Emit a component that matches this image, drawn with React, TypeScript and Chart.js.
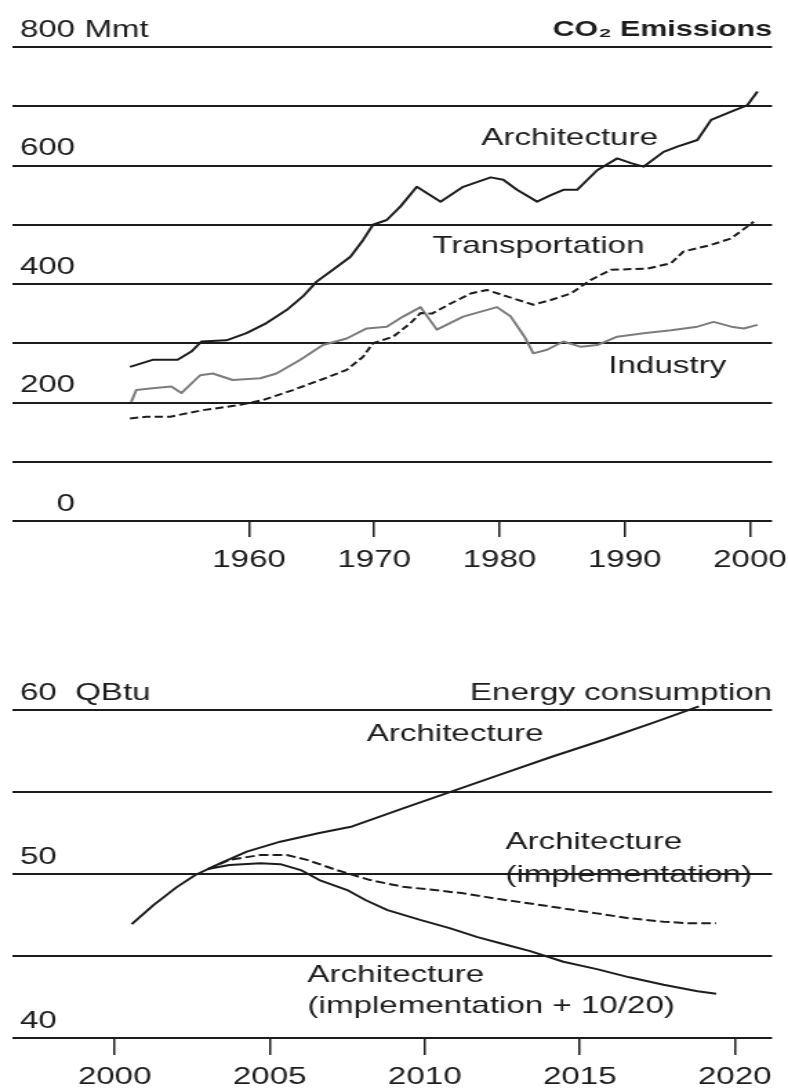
import React, { useEffect, useRef } from 'react';
import { Chart, registerables } from 'chart.js';

Chart.register(...registerables);

// ---------- data: CO2 emissions (Mmt) ----------
const archYears = [1950.5, 1952.3, 1954.3, 1955.4, 1956.2, 1958.2, 1959.8, 1961.4, 1963, 1964.3, 1965.4, 1966.7, 1968.1, 1969.1, 1969.9, 1971, 1972.1, 1973.4, 1975.3, 1977.1, 1979.3, 1980.3, 1981.4, 1983, 1984.1, 1985.1, 1986.2, 1987.8, 1989.4, 1990.5, 1991.5, 1993.1, 1994.2, 1995.8, 1996.9, 1998.5, 1999.8, 2000.6];
const archCO2 = [260, 272, 272, 286, 303, 305, 317, 334, 356, 379, 404, 424, 446, 474, 500, 508, 531, 564, 539, 564, 580, 576, 559, 539, 550, 559, 559, 592, 612, 604, 598, 623, 632, 643, 677, 691, 702, 725];

const transYears = [1950.5, 1951.8, 1953.7, 1956.3, 1959.3, 1961.1, 1963.5, 1965.7, 1967.8, 1969.1, 1969.9, 1971.5, 1972.9, 1973.7, 1974.6, 1976.1, 1977.7, 1979, 1980.6, 1982.7, 1984.1, 1985.7, 1987.3, 1988.9, 1991.8, 1993.7, 1994.7, 1996.9, 1998.5, 2000.3];
const transCO2 = [173, 176, 176, 187, 196, 204, 221, 238, 255, 277, 300, 311, 334, 351, 350, 367, 384, 390, 379, 365, 373, 384, 407, 424, 426, 435, 455, 466, 477, 505];

const indYears = [1950.6, 1951, 1952.3, 1953.8, 1954.6, 1956.1, 1957.1, 1958.7, 1960.9, 1962.2, 1964.1, 1965.9, 1967.8, 1969.4, 1971, 1972.3, 1973.7, 1975, 1977.1, 1979.8, 1980.9, 1982, 1982.7, 1983.8, 1985.1, 1986.5, 1987.8, 1989.4, 1991.5, 1993.7, 1995.8, 1997.1, 1998.5, 1999.5, 2000.6];
const indCO2 = [201, 221, 224, 227, 216, 246, 249, 238, 241, 249, 272, 297, 308, 325, 328, 345, 361, 323, 345, 361, 345, 311, 283, 289, 303, 294, 297, 311, 317, 322, 328, 336, 328, 325, 331];

const co2YearTicks = [1960, 1970, 1980, 1990, 2000];
const co2ValueTicks = [0, 100, 200, 300, 400, 500, 600, 700, 800];

// ---------- data: energy consumption (QBtu) ----------
const energyYears = [2000.55, 2001.25, 2002, 2002.6, 2003.4, 2004.26, 2005.34, 2006.6, 2007.66, 2009.3, 2010.9, 2012.5, 2014.1, 2015.8, 2017.4, 2018.84];
const energyArch = [46.95, 48.1, 49.2, 49.94, 50.65, 51.36, 51.97, 52.5, 52.9, 54.0, 55.05, 56.1, 57.15, 58.2, 59.25, 60.22];

const implYears = [2003.0, 2003.7, 2004.7, 2005.55, 2006.2, 2007.16, 2008.24, 2009.3, 2010.17, 2011.25, 2012.3, 2013.4, 2014.47, 2015.55, 2016.6, 2017.7, 2018.56, 2019.4];
const energyImpl = [50.3, 50.86, 51.16, 51.16, 50.86, 50.24, 49.63, 49.22, 49.05, 48.82, 48.5, 48.2, 47.9, 47.6, 47.3, 47.09, 46.99, 46.99];

const impl1020Years = [2003.0, 2003.7, 2004.7, 2005.34, 2006, 2006.6, 2007.5, 2008.1, 2008.8, 2009.85, 2010.8, 2011.7, 2012.5, 2013.4, 2014.47, 2015.55, 2016.6, 2017.7, 2018.8, 2019.4];
const energyImpl1020 = [50.3, 50.55, 50.65, 50.6, 50.24, 49.63, 49.02, 48.4, 47.8, 47.2, 46.7, 46.15, 45.75, 45.3, 44.65, 44.2, 43.7, 43.25, 42.85, 42.7];

const energyYearTicks = [2000, 2005, 2010, 2015, 2020];
const energyValueTicks = [40, 45, 50, 55, 60];

// ---------- layout / style ----------
const PAGE_W = 788;
const INNER_W = 571; // canvas backing width; shown stretched to PAGE_W like the reference
const S = PAGE_W / INNER_W;
const INK = '#1c1c1c';
const GREY = '#7c7c7c';
const FAMILY = '"Liberation Sans", Arial, Helvetica, sans-serif';
const FONT_SIZE = 24;

const topNotes = [
  { text: 'Architecture', x: 1985.6, y: 645, align: 'center' },
  { text: 'Transportation', x: 1983.1, y: 464, align: 'center' },
  { text: 'Industry', x: 1993.4, y: 261, align: 'center' },
];

const bottomNotes = [
  { text: 'Architecture', x: 2010.98, y: 58.5, align: 'center' },
  { text: 'Architecture', x: 2012.6, y: 51.9, align: 'left' },
  { text: '(implementation)', x: 2012.6, y: 49.94, align: 'left' },
  { text: 'Architecture', x: 2006.22, y: 43.83, align: 'left' },
  { text: '(implementation + 10/20)', x: 2006.22, y: 41.94, align: 'left' },
];

const pts = (xs: number[], ys: number[]) => xs.map((x, i) => ({ x, y: ys[i] }));

function makeNotesPlugin(notes: any[], title: string, titleBold: boolean, unit: string, unitAfter: string, topValue: number) {
  return {
    id: 'notes',
    afterDatasetsDraw(chart: any) {
      const { ctx, chartArea } = chart;
      const xs = chart.scales.x;
      const ys = chart.scales.y;
      ctx.save();
      ctx.fillStyle = INK;
      ctx.textBaseline = 'middle';
      ctx.font = `${FONT_SIZE}px ${FAMILY}`;
      for (const n of notes) {
        ctx.textAlign = n.align;
        ctx.fillText(n.text, xs.getPixelForValue(n.x), ys.getPixelForValue(n.y));
      }
      const headY = ys.getPixelForValue(topValue) - 17;
      // unit next to the top tick label
      const tickX = chartArea.left + 5 + ctx.measureText(unitAfter).width;
      ctx.textAlign = 'left';
      ctx.fillText(unit, tickX, headY);
      // title at the right
      ctx.font = `${titleBold ? 'bold 22px' : FONT_SIZE + 'px'} ${FAMILY}`;
      ctx.textAlign = 'right';
      ctx.fillText(title, chartArea.right, headY);
      ctx.restore();
    },
  };
}

function buildOptions(cfg: any) {
  const font = { family: FAMILY, size: FONT_SIZE };
  return {
    responsive: false,
    maintainAspectRatio: false,
    animation: false,
    devicePixelRatio: 1,
    events: [],
    layout: { padding: { left: 13 / S, right: 16 / S, top: cfg.padTop, bottom: cfg.padBottom } },
    plugins: { legend: { display: false }, tooltip: { enabled: false }, title: { display: false } },
    elements: { line: { borderJoinStyle: 'round', borderCapStyle: 'butt' }, point: { radius: 0 } },
    scales: {
      x: {
        type: 'linear',
        min: cfg.xMin,
        max: cfg.xMax,
        afterBuildTicks: (s: any) => { s.ticks = cfg.xTicks.map((v: number) => ({ value: v })); },
        afterFit: (s: any) => { s.height = cfg.xAxisH; s.paddingLeft = 0; s.paddingRight = 0; },
        grid: { drawOnChartArea: false, drawTicks: true, tickLength: cfg.tickLen, color: INK, lineWidth: 1.5 },
        border: { display: false },
        ticks: { font, color: INK, padding: cfg.tickPad, maxRotation: 0, autoSkip: false, callback: (v: any) => String(v) },
      },
      y: {
        type: 'linear',
        min: cfg.yMin,
        max: cfg.yMax,
        afterBuildTicks: (s: any) => { s.ticks = cfg.yTicks.map((v: number) => ({ value: v })); },
        afterFit: (s: any) => { s.width = 0; s.paddingTop = 0; s.paddingBottom = 0; },
        grid: { color: INK, lineWidth: 2, drawTicks: false },
        border: { display: false },
        ticks: {
          mirror: true, crossAlign: 'far', padding: 5, labelOffset: -17, font, color: INK, autoSkip: false,
          callback: (v: any) => (v % cfg.labelEvery === 0 ? String(v) : ''),
        },
      },
    },
  };
}

export default function App() {
  const topRef = useRef<HTMLCanvasElement | null>(null);
  const botRef = useRef<HTMLCanvasElement | null>(null);

  useEffect(() => {
    const line = (label: string, data: any[], color: string, dash: number[] = []) => ({
      label, data, borderColor: color, borderWidth: 2, borderDash: dash, pointRadius: 0, tension: 0, fill: false, clip: false,
    });

    const top = new Chart(topRef.current as HTMLCanvasElement, {
      type: 'line',
      data: {
        datasets: [
          line('Architecture', pts(archYears, archCO2), INK),
          line('Transportation', pts(transYears, transCO2), INK, [6, 3]),
          line('Industry', pts(indYears, indCO2), GREY),
        ],
      },
      options: buildOptions({
        padTop: 47, padBottom: 19, xMin: 1941.16, xMax: 2001.76, xTicks: co2YearTicks, xAxisH: 60, tickLen: 16, tickPad: 9,
        yMin: 0, yMax: 800, yTicks: co2ValueTicks, labelEvery: 200,
      }) as any,
      plugins: [makeNotesPlugin(topNotes, 'CO\u2082 Emissions', true, ' Mmt', '800', 800)],
    });

    const bottom = new Chart(botRef.current as HTMLCanvasElement, {
      type: 'line',
      data: {
        datasets: [
          line('Architecture', pts(energyYears, energyArch), INK),
          line('Architecture (implementation)', pts(implYears, energyImpl), INK, [7, 3]),
          line('Architecture (implementation + 10/20)', pts(impl1020Years, energyImpl1020), INK),
        ],
      },
      options: buildOptions({
        padTop: 110, padBottom: 0, xMin: 1996.72, xMax: 2021.2, xTicks: energyYearTicks, xAxisH: 51, tickLen: 17, tickPad: 8,
        yMin: 40, yMax: 60, yTicks: energyValueTicks, labelEvery: 10,
      }) as any,
      plugins: [makeNotesPlugin(bottomNotes, 'Energy consumption', false, '  QBtu', '60', 60)],
    });

    return () => {
      top.destroy();
      bottom.destroy();
    };
  }, []);

  return (
    <div style={{ position: 'absolute', left: 0, top: 0, width: PAGE_W, height: 1089, overflow: 'hidden', background: '#fff' }}>
      <canvas
        ref={topRef}
        width={INNER_W}
        height={600}
        style={{ position: 'absolute', left: 0, top: 0, width: PAGE_W, height: 600, display: 'block' }}
      />
      <canvas
        ref={botRef}
        width={INNER_W}
        height={489}
        style={{ position: 'absolute', left: 0, top: 600, width: PAGE_W, height: 489, display: 'block' }}
      />
    </div>
  );
}
